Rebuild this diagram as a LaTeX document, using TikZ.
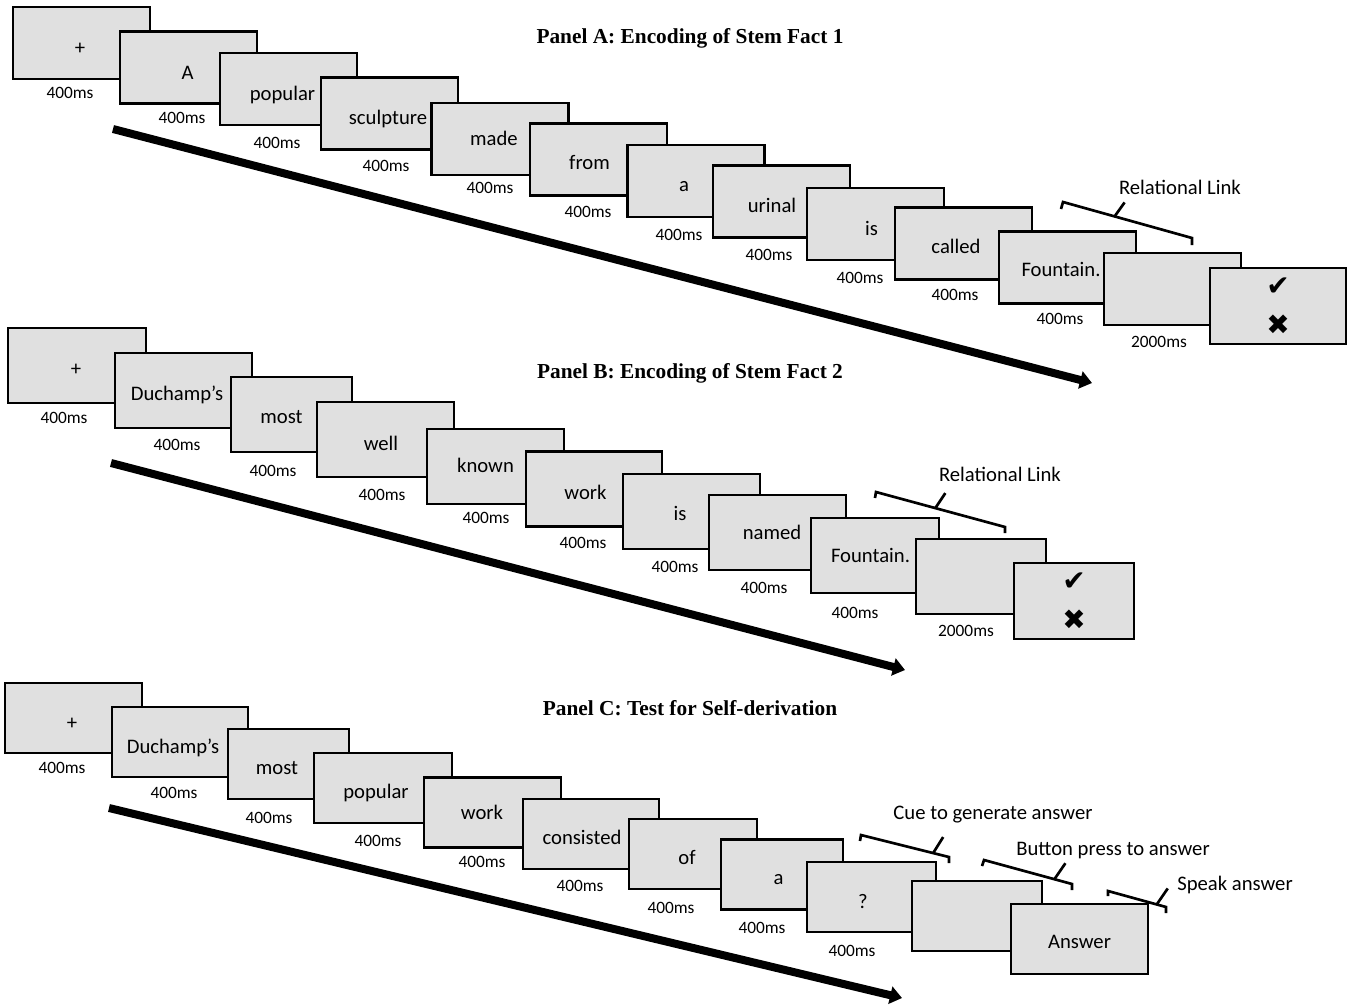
\documentclass[tikz,border=0pt]{standalone}
\usepackage{fontspec}
\newfontfamily\calib{Carlito}
\newfontfamily\timesf{Liberation Serif}
\newfontfamily\symf{DejaVu Sans}
\usepackage{tikz}
\usetikzlibrary{arrows.meta,calc}

\begin{document}
\begin{tikzpicture}[
  x=0.75pt, y=-0.75pt,
  scrh/.style={minimum height=54pt},
  scr/.style={draw, line width=2pt, fill=black!12, minimum width=#1*0.75pt, scrh, inner sep=0pt},
  scr/.default=137,
  wd/.style={font=\calib\fontsize{15.5}{18}\selectfont, inner sep=0pt, text height=1.5ex, text depth=.25ex, yshift=-2.5pt},
  dur/.style={font=\calib\fontsize{13}{15}\selectfont, inner sep=0pt},
  ttl/.style={font=\timesf\bfseries\fontsize{16}{19}\selectfont, inner sep=0pt},
  note/.style={font=\calib\fontsize{15.5}{18}\selectfont, inner sep=0pt},
  chk/.style={align=center, font=\symf\bfseries\fontsize{21}{29.5}\selectfont},
  brk/.style={line width=2pt},
  flow/.style={-{Triangle[length=9pt,width=13pt]}, line width=6pt},
]
\useasboundingbox (0,0) rectangle (1355,1007);
% panel A: stem fact 1
\node[ttl] (ta) at (690,38) {Panel A: Encoding of Stem Fact 1};
\node[scr] (a1) at (81.5,43) {};       \node[wd] (wa1) at (80,48) {+};          \node[dur] (da1) at (70,93) {400ms};
\node[scr] (a2) at (188.5,67.5) {};    \node[wd] (wa2) at (187.5,73) {A};       \node[dur] (da2) at (182,118) {400ms};
\node[scr] (a3) at (288.5,89) {};      \node[wd] (wa3) at (282.5,94) {popular}; \node[dur] (da3) at (277,143) {400ms};
\node[scr] (a4) at (389.5,113.5) {};   \node[wd] (wa4) at (388,118) {sculpture};\node[dur] (da4) at (386,166) {400ms};
\node[scr] (a5) at (500,139) {};       \node[wd] (wa5) at (494,139) {made};     \node[dur] (da5) at (490,188) {400ms};
\node[scr] (a6) at (598.5,159.5) {};   \node[wd] (wa6) at (589.5,163) {from};   \node[dur] (da6) at (588,212) {400ms};
\node[scr] (a7) at (696,181) {};       \node[wd] (wa7) at (684,185) {a};        \node[dur] (da7) at (679,235) {400ms};
\node[scr] (a8) at (781.5,201.5) {};   \node[wd] (wa8) at (772,206) {urinal};   \node[dur] (da8) at (769,255) {400ms};
\node[scr] (a9) at (875.5,224) {};     \node[wd] (wa9) at (871.5,229) {is};     \node[dur] (da9) at (860,278) {400ms};
\node[scr] (a10) at (963.5,243.5) {};  \node[wd] (wa10) at (956,247) {called};  \node[dur] (da10) at (955,295) {400ms};
\node[scr] (a11) at (1067.5,267.5) {}; \node[wd] (wa11) at (1061,270) {Fountain.};\node[dur] (da11) at (1060,319) {400ms};
\node[scr] (a12) at (1172.5,289) {};   \node[dur] (da12) at (1159,342) {2000ms};
\node[scr=136, minimum height=57pt, chk] (a13) at (1278,306) {✔\\✖};
\coordinate (sA) at (113,129); \coordinate (eA) at (1092,383);
\draw[flow] (sA) -- (eA);
\coordinate (ka1) at (1063,202); \coordinate (ka2) at (1192,238);
\draw[brk] ($(ka1)+(-2,7)$) -- (ka1) -- (ka2) -- ++(0,7);
\draw[brk] ($(ka1)!0.4!(ka2)$) -- ++(10,-14);
\node[note] (rla) at (1180,187) {Relational Link};
% panel B: stem fact 2
\begin{scope}[scrh/.style={minimum height=56.25pt}]
\node[ttl] (tb) at (690,373) {Panel B: Encoding of Stem Fact 2};
\node[scr=138] (b1) at (77,365.5) {};  \node[wd] (wb1) at (76,369) {+};         \node[dur] (db1) at (64,418) {400ms};
\node[scr] (b2) at (183.5,390.5) {};   \node[wd] (wb2) at (177,394) {Duchamp’s};\node[dur] (db2) at (177,445) {400ms};
\node[scr=121] (b3) at (291.5,414.5) {};\node[wd] (wb3) at (281.5,417) {most};  \node[dur] (db3) at (273,471) {400ms};
\node[scr] (b4) at (385.5,439.5) {};   \node[wd] (wb4) at (381,444) {well};     \node[dur] (db4) at (382,495) {400ms};
\node[scr] (b5) at (495.5,466.5) {};   \node[wd] (wb5) at (485.5,466) {known};  \node[dur] (db5) at (486,518) {400ms};
\node[scr=136] (b6) at (594,489) {};   \node[wd] (wb6) at (585.5,493) {work};   \node[dur] (db6) at (583,543) {400ms};
\node[scr] (b7) at (691.5,511.5) {};   \node[wd] (wb7) at (680,514) {is};       \node[dur] (db7) at (675,567) {400ms};
\node[scr] (b8) at (777.5,532.5) {};   \node[wd] (wb8) at (772,533) {named};    \node[dur] (db8) at (764,588) {400ms};
\node[scr=128] (b9) at (875,555.5) {}; \node[wd] (wb9) at (870.5,556) {Fountain.};\node[dur] (db9) at (855,613) {400ms};
\node[scr=130] (b10) at (981,576.5) {};\node[dur] (db10) at (966,631) {2000ms};
\node[scr=120, minimum height=57pt, chk] (b11) at (1074,601) {✔\\✖};
\end{scope}
\coordinate (sB) at (111,463); \coordinate (eB) at (905,670);
\draw[flow] (sB) -- (eB);
\coordinate (kb1) at (876,492); \coordinate (kb2) at (1005,527);
\draw[brk] ($(kb1)+(-1,6)$) -- (kb1) -- (kb2) -- ++(0,6);
\draw[brk] ($(kb1)!0.46!(kb2)$) -- ++(10,-15);
\node[note] (rlb) at (1000,474) {Relational Link};
% panel C: test
\begin{scope}[scrh/.style={minimum height=52.5pt}]
\node[ttl] (tc) at (690,708) {Panel C: Test for Self-derivation};
\node[scr] (c1) at (73.5,718) {};      \node[wd] (wc1) at (72,723) {+};          \node[dur] (dc1) at (62,768) {400ms};
\node[scr=136] (c2) at (180,742) {};   \node[wd] (wc2) at (173,747) {Duchamp’s};\node[dur] (dc2) at (174,793) {400ms};
\node[scr=121] (c3) at (288.5,764) {}; \node[wd] (wc3) at (277,768) {most};     \node[dur] (dc3) at (269,818) {400ms};
\node[scr=138] (c4) at (383,788) {};   \node[wd] (wc4) at (376,792) {popular};  \node[dur] (dc4) at (378,841) {400ms};
\node[scr] (c5) at (492.5,812.5) {};   \node[wd] (wc5) at (482,813) {work};     \node[dur] (dc5) at (482,862) {400ms};
\node[scr=136] (c6) at (591,834) {};   \node[wd] (wc6) at (582,838) {consisted};\node[dur] (dc6) at (580,886) {400ms};
\node[scr=128] (c7) at (693,854) {};   \node[wd] (wc7) at (687,858) {of};       \node[dur] (dc7) at (671,908) {400ms};
\node[scr=122] (c8) at (782,874.5) {}; \node[wd] (wc8) at (778.5,878) {a};      \node[dur] (dc8) at (762,928) {400ms};
\node[scr=129] (c9) at (871.5,897) {}; \node[wd] (wc9) at (863,902) {?};        \node[dur] (dc9) at (852,951) {400ms};
\node[scr=130] (c10) at (977,916) {};
\node[scr] (c11) at (1079.5,939) {};   \node[wd] (wc11) at (1079.5,942) {Answer};
\end{scope}
\coordinate (sC) at (109,808); \coordinate (eC) at (902,998);
\draw[flow] (sC) -- (eC);
\coordinate (kc1) at (861,835); \coordinate (kc2) at (949,857);
\draw[brk] ($(kc1)+(-1,6)$) -- (kc1) -- (kc2) -- ++(0,6);
\draw[brk] ($(kc1)!0.82!(kc2)$) -- ++(10,-16);
\node[note] (cue) at (993,815) {Cue to generate answer};
\coordinate (kd1) at (984,860); \coordinate (kd2) at (1072,884);
\draw[brk] ($(kd1)+(-2,6)$) -- (kd1) -- (kd2) -- ++(0,6);
\draw[brk] ($(kd1)!0.8!(kd2)$) -- ++(11,-16);
\node[note] (btn) at (1113,851) {Button press to answer};
\coordinate (ke1) at (1108,891); \coordinate (ke2) at (1166,907);
\draw[brk] ($(ke1)+(0,5)$) -- (ke1) -- (ke2) -- ++(0,6);
\draw[brk] ($(ke1)!0.84!(ke2)$) -- ++(11,-16);
\node[note] (spk) at (1235,885) {Speak answer};
\end{tikzpicture}
\end{document}
